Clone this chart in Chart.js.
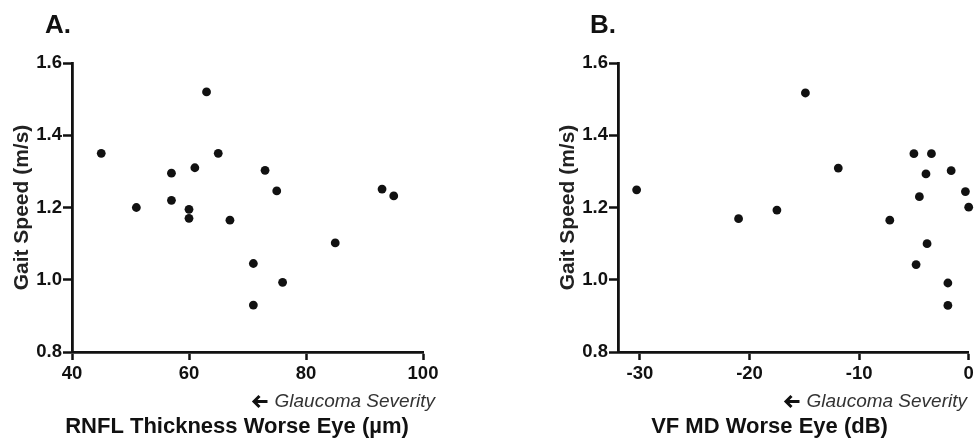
<!DOCTYPE html>
<html>
<head>
<meta charset="utf-8">
<title>Gait speed vs glaucoma severity</title>
<script src="https://cdn.jsdelivr.net/npm/chart.js@4.4.1/dist/chart.umd.min.js"></script>
<style>
  html, body { margin: 0; padding: 0; background: #fff; overflow: hidden; }
  .panel { position: absolute; top: 0; height: 443px; }
  #panelA { left: 0; width: 487px; }
  #panelB { left: 487px; width: 520px; }
</style>
</head>
<body>
<div class="panel" id="panelA"><canvas id="chartA"></canvas></div>
<div class="panel" id="panelB"><canvas id="chartB"></canvas></div>
<script>
// RNFL thickness (um) vs gait speed (m/s)
const rnflThickness = [45, 51, 57, 57, 60, 60, 61, 63, 65, 67, 71, 71, 73, 75, 76, 85, 93, 95];
const rnflGaitSpeed = [1.35, 1.20, 1.295, 1.22, 1.195, 1.17, 1.31, 1.52, 1.35, 1.165, 1.045, 0.93, 1.303, 1.246, 0.993, 1.102, 1.251, 1.232];

// VF mean deviation (dB) vs gait speed (m/s)
const vfMd = [-30.3, -21.0, -17.5, -14.9, -11.9, -7.2, -5.0, -3.4, -3.9, -4.5, -3.8, -4.8, -1.6, -1.9, -1.9, -0.3, 0.0];
const vfGaitSpeed = [1.249, 1.169, 1.193, 1.517, 1.309, 1.165, 1.349, 1.349, 1.293, 1.230, 1.100, 1.042, 1.302, 0.991, 0.929, 1.244, 1.201];

const gaitTicks = [0.8, 1.0, 1.2, 1.4, 1.6];
const rnflTicks = [40, 60, 80, 100];
const vfMdTicks = [-30, -20, -10, 0];

const fontFamily = '"Liberation Sans", Arial, Helvetica, sans-serif';
const ink = '#111';

Chart.defaults.font.family = fontFamily;
Chart.defaults.color = ink;

// #### Panel labels, x title and the severity hint under the axis
const panelText = {
    id: 'panelText',
    afterDraw(chart, args, opts) {
        const ctx = chart.ctx;
        ctx.save();
        ctx.fillStyle = ink;
        ctx.font = 'bold 26px ' + fontFamily;
        ctx.textAlign = 'left';
        ctx.textBaseline = 'alphabetic';
        ctx.fillText(opts.letter, opts.letterX, 33);

        ctx.font = 'bold 22px ' + fontFamily;
        ctx.textAlign = 'center';
        ctx.textBaseline = 'middle';
        ctx.fillText(opts.xTitle, opts.xTitleX, 427);

        const hint = 'Glaucoma Severity';
        const hintY = 402;
        ctx.font = 'italic 19px ' + fontFamily;
        ctx.fillStyle = '#333';
        ctx.textAlign = 'right';
        ctx.fillText(hint, opts.noteRight, hintY);

        // thick left arrow in front of the hint
        const tip = opts.noteRight - ctx.measureText(hint).width - 21;
        const cy = hintY - 0.5;
        ctx.strokeStyle = ink;
        ctx.lineWidth = 3;
        ctx.lineJoin = 'miter';
        ctx.beginPath();
        ctx.moveTo(tip + 1, cy);
        ctx.lineTo(tip + 14, cy);
        ctx.stroke();
        ctx.beginPath();
        ctx.moveTo(tip + 6, cy - 5.5);
        ctx.lineTo(tip + 0.5, cy);
        ctx.lineTo(tip + 6, cy + 5.5);
        ctx.stroke();
        ctx.restore();
    }
};

function makeScatter(canvasId, xs, ys, xRange, xTicks, text, padding) {
    return new Chart(document.getElementById(canvasId), {
        type: 'scatter',
        data: {
            datasets: [{
                data: xs.map((x, i) => ({ x: x, y: ys[i] })),
                pointRadius: 4.4,
                pointHoverRadius: 4.4,
                pointBackgroundColor: ink,
                pointBorderWidth: 0,
                clip: false
            }]
        },
        options: {
            responsive: true,
            maintainAspectRatio: false,
            animation: false,
            devicePixelRatio: 1,
            layout: { padding: padding },
            scales: {
                x: {
                    type: 'linear',
                    min: xRange[0],
                    max: xRange[1],
                    afterBuildTicks: s => { s.ticks = xTicks.map(v => ({ value: v })); },
                    afterFit: s => { s.height = 91; },
                    grid: { drawOnChartArea: false, drawTicks: true, tickLength: 8, tickWidth: 2.5, tickColor: ink },
                    border: { display: true, color: ink, width: 2.8 },
                    ticks: { color: ink, font: { size: 18.5, weight: 'bold' }, padding: 3, maxRotation: 0, autoSkip: false }
                },
                y: {
                    type: 'linear',
                    min: 0.8,
                    max: 1.6,
                    afterBuildTicks: s => { s.ticks = gaitTicks.map(v => ({ value: v })); },
                    afterFit: s => { s.width = 72; },
                    grid: { drawOnChartArea: false, drawTicks: true, tickLength: 9, tickWidth: 2.5, tickColor: ink },
                    border: { display: true, color: ink, width: 2.8 },
                    ticks: {
                        color: ink,
                        font: { size: 18.5, weight: 'bold' },
                        padding: 1,
                        autoSkip: false,
                        callback: v => v.toFixed(1)
                    },
                    title: {
                        display: true,
                        text: 'Gait Speed (m/s)',
                        color: '#222',
                        font: { size: 21, weight: 'bold' },
                        padding: { top: 10, bottom: 0 }
                    }
                }
            },
            plugins: {
                legend: { display: false },
                tooltip: { enabled: false },
                panelText: text
            }
        },
        plugins: [panelText]
    });
}

makeScatter('chartA', rnflThickness, rnflGaitSpeed, [40, 100], rnflTicks,
    { letter: 'A.', letterX: 45, xTitle: 'RNFL Thickness Worse Eye (\u00b5m)', xTitleX: 237, noteRight: 435 },
    { left: 0, right: 64, top: 63, bottom: 0 });

makeScatter('chartB', vfMd, vfGaitSpeed, [-32, 0], vfMdTicks,
    { letter: 'B.', letterX: 103, xTitle: 'VF MD Worse Eye (dB)', xTitleX: 282.5, noteRight: 480 },
    { left: 59, right: 38.3, top: 63, bottom: 0 });
</script>
</body>
</html>
